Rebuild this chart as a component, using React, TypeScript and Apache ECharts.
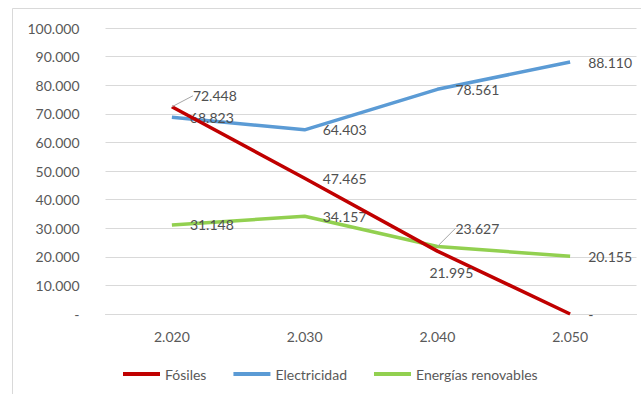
import React, { useEffect, useRef } from "react";
import * as echarts from "echarts";

const categories = ["2.020", "2.030", "2.040", "2.050"];
const fosiles = [72.448, 47.465, 21.995, 0];
const electricidad = [68.823, 64.403, 78.561, 88.11];
const renovables = [31.148, 34.157, 23.627, 20.155];
const yTicks = { min: 0, max: 100, interval: 10 };

const FONT = "Lato, 'Open Sans', sans-serif";
const TXT = "#595959";

const fmt = (v: number) => (v === 0 ? "-" : v.toFixed(3));

export default function App() {
  const ref = useRef<HTMLDivElement>(null);
  useEffect(() => {
    document.body.style.margin = "0";
    const chart = echarts.init(ref.current!, null, { renderer: "svg" });
    const baseLabel = {
      show: true,
      position: "right",
      distance: 18,
      color: "#505050",
      fontSize: 14,
      fontFamily: FONT,
      formatter: (p: any) => fmt(p.value as number),
    };
    const common = {
      type: "line",
      symbol: "circle",
      symbolSize: 0,
      showSymbol: true,
      label: baseLabel,
    };
    chart.setOption({
      animation: false,
      backgroundColor: "#fff",
      textStyle: { fontFamily: FONT },
      graphic: [
        {
          type: "rect",
          shape: { x: 12.5, y: 8.5, width: 700, height: 500 },
          style: { fill: "none", stroke: "#D9D9D9", lineWidth: 1 },
          silent: true,
          z: -10,
        },
      ],
      grid: { left: 105.5, right: 4.5, top: 28, bottom: 80 },
      legend: {
        left: 118,
        top: 362,
        icon: "rect",
        itemWidth: 37,
        itemHeight: 4,
        itemGap: 27,
        textStyle: { color: TXT, fontSize: 14, fontFamily: FONT },
        data: ["Fósiles", "Electricidad", "Energías renovables"],
      },
      xAxis: {
        type: "category",
        data: categories,
        boundaryGap: true,
        axisLine: { show: true, lineStyle: { color: "#D9D9D9", width: 1 } },
        axisTick: { show: false },
        axisLabel: { color: TXT, fontSize: 14, fontFamily: FONT, margin: 15 },
      },
      yAxis: {
        type: "value",
        min: yTicks.min,
        max: yTicks.max,
        interval: yTicks.interval,
        axisLine: { show: false },
        axisTick: { show: false },
        splitLine: { lineStyle: { color: "#D9D9D9", width: 1 } },
        axisLabel: {
          color: TXT,
          fontSize: 14,
          fontFamily: FONT,
          margin: 26,
          formatter: (v: number) => fmt(v),
        },
      },
      series: [
        {
          ...common,
          name: "Electricidad",
          data: electricidad,
          lineStyle: { color: "#5B9BD5", width: 3.5 },
          itemStyle: { color: "#5B9BD5" },
          z: 2,
        },
        {
          ...common,
          name: "Energías renovables",
          data: renovables.map((v, i) =>
            i === 2 ? { value: v, labelLine: { show: true } } : { value: v }
          ),
          lineStyle: { color: "#92D050", width: 3.5 },
          itemStyle: { color: "#92D050" },
          labelLine: { show: false, lineStyle: { color: "#A6A6A6", width: 1 } },
          labelLayout: (p: any) => (p.dataIndex === 2 ? { dy: -18 } : {}),
          z: 3,
        },
        {
          ...common,
          name: "Fósiles",
          data: fosiles.map((v, i) =>
            i === 0 ? { value: v, labelLine: { show: true } } : { value: v }
          ),
          lineStyle: { color: "#C00000", width: 3.5 },
          itemStyle: { color: "#C00000" },
          labelLine: { show: false, lineStyle: { color: "#A6A6A6", width: 1 } },
          labelLayout: (p: any) =>
            p.dataIndex === 0
              ? { dx: 3, dy: -11 }
              : p.dataIndex === 2
              ? { dx: -26, dy: 21 }
              : {},
          z: 4,
        },
      ],
    });
    return () => chart.dispose();
  }, []);
  return <div ref={ref} style={{ width: 641, height: 394 }} />;
}
